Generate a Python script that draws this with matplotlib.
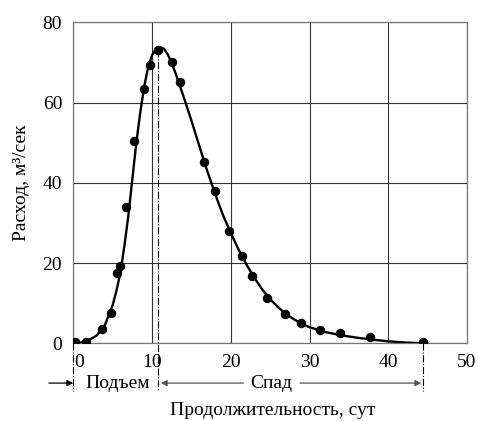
"""Гидрограф: расход воды во время паводка"""
import matplotlib.pyplot as plt
import matplotlib.transforms as mtransforms

plt.rcParams['font.family'] = ['Liberation Serif', 'DejaVu Serif']
plt.rcParams['font.size'] = 14

# наблюдённые точки (сутки, м3/сек)
obs_days = [0.2, 1.6, 3.7, 4.75, 5.5, 5.9, 6.7, 7.7, 9.0, 9.75, 10.7, 12.5, 13.55,
            16.6, 18.0, 19.8, 21.4, 22.7, 24.6, 26.9, 28.9, 31.3, 33.9, 37.7, 44.4]
obs_flow = [0.2, 0.3, 3.5, 7.5, 17.4, 19.3, 34.0, 50.5, 63.3, 69.4, 73.1, 70.0, 65.2,
            45.3, 38.0, 28.1, 21.8, 16.8, 11.2, 7.3, 5.0, 3.3, 2.5, 1.5, 0.2]

# сглаженная кривая гидрографа
curve_days = [0, 1, 2, 3, 4, 5, 5.5, 6, 6.5, 7, 7.5, 8, 8.5, 9, 9.5, 10, 10.5, 11,
              11.5, 12, 12.5, 13, 14, 15, 16, 17, 18, 19, 20, 21, 22, 23, 24, 25,
              26, 27, 28, 29, 30, 32, 34, 36, 38, 40, 42, 44.4]
curve_flow = [0, 0.2, 0.8, 2.0, 4.5, 9.5, 13.3, 17.8, 24.5, 32.0, 41.0, 50.0, 57.5,
              64.0, 68.8, 71.8, 73.4, 73.8, 73.4, 72.0, 69.8, 67.2, 61.5, 55.5, 49.2,
              43.0, 37.3, 32.0, 27.5, 23.3, 19.6, 16.3, 13.4, 11.0, 9.0, 7.3, 6.0,
              4.9, 4.0, 2.8, 2.0, 1.4, 0.9, 0.5, 0.2, 0.0]

rise_start = 0.0
peak_day = 10.8
peak_flow = 73.2
end_day = 44.4

fig = plt.figure(figsize=(4.78, 4.21), dpi=100)
ax = fig.add_axes([0.1534, 0.1846, 0.8236, 0.7624])

ax.plot(curve_days, curve_flow, color='black', linewidth=1.7, zorder=3)
ax.plot(obs_days, obs_flow, 'o', color='black', markersize=5.8, zorder=4)

ax.set_xlim(0, 50)
ax.set_ylim(0, 80)
ax.set_xticks([0, 10, 20, 30, 40, 50])
ax.set_yticks([0, 20, 40, 60, 80])
ax.tick_params(length=0, pad=8)
ax.grid(True, color='#333333', linewidth=0.8)
for s in ax.spines.values():
    s.set_color('#777777')
    s.set_linewidth(0.9)

# сдвиг подписи "0" вправо, чтобы не мешала штрих-пунктиру
lbl0 = ax.get_xticklabels()[0]
lbl0.set_transform(lbl0.get_transform() +
                   mtransforms.ScaledTranslation(4.5 / 72, 0, fig.dpi_scale_trans))

ax.set_ylabel('Расход, м³/сек', labelpad=9)

# штрих-пунктирные границы фаз
trans = mtransforms.blended_transform_factory(ax.transData, ax.transAxes)
y_low = -0.149
y_arr = -0.124
for xd in [rise_start, end_day]:
    ax.plot([xd, xd], [0.0, y_low], transform=trans, color='black',
            linewidth=0.8, linestyle='-.', clip_on=False)
ax.plot([peak_day, peak_day], [peak_flow / 80, y_low], transform=trans,
        color='black', linewidth=0.8, linestyle='-.', clip_on=False, zorder=2)

arrow = dict(arrowstyle='-|>', color='black', linewidth=0.9,
             mutation_scale=9, shrinkA=0, shrinkB=0)
arrow_gray = dict(arrow, color='#555555')
ax.annotate('', xy=(rise_start, y_arr), xytext=(-3.1, y_arr),
            xycoords=trans, textcoords=trans, arrowprops=arrow, annotation_clip=False)
ax.text((rise_start + peak_day) / 2 + 0.2, y_arr, 'Подъем', transform=trans,
        ha='center', va='center')
ax.annotate('', xy=(peak_day + 0.3, y_arr), xytext=(21.6, y_arr),
            xycoords=trans, textcoords=trans, arrowprops=arrow_gray, annotation_clip=False)
ax.text(25.1, y_arr, 'Спад', transform=trans, ha='center', va='center')
ax.annotate('', xy=(end_day - 0.2, y_arr), xytext=(28.8, y_arr),
            xycoords=trans, textcoords=trans, arrowprops=arrow_gray, annotation_clip=False)

fig.text(0.571, 0.024, 'Продолжительность, сут', ha='center', va='center')

fig.savefig('out.png', dpi=100)
